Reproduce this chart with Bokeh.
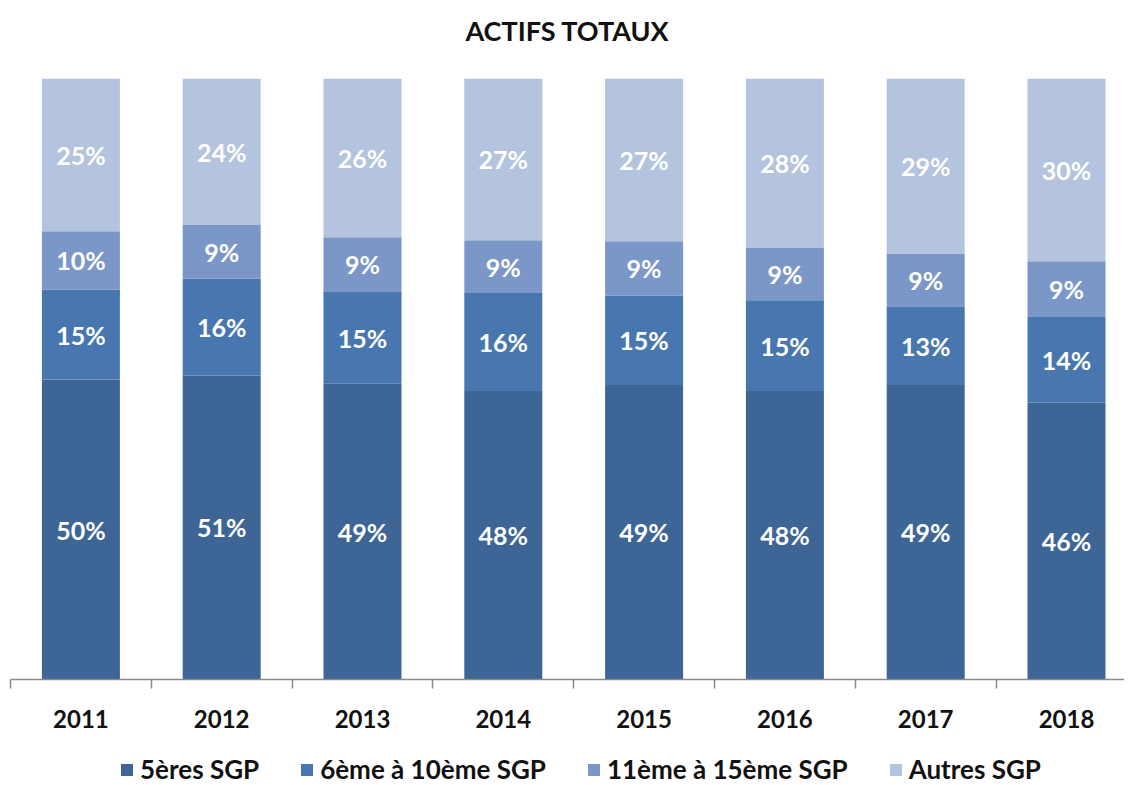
from bokeh.plotting import figure
from bokeh.layouts import column
from bokeh.models import ColumnDataSource, Range1d, FixedTicker, Legend, LegendItem
from bokeh.core.properties import value
from bokeh.embed import file_html
from bokeh.resources import INLINE

title_text = "ACTIFS TOTAUX"
years = ["2011", "2012", "2013", "2014", "2015", "2016", "2017", "2018"]
series_names = ["5ères SGP", "6ème à 10ème SGP", "11ème à 15ème SGP", "Autres SGP"]
top5 = [49.9, 50.6, 49.2, 48.0, 49.0, 48.0, 49.0, 46.1]
top6_10 = [15.0, 16.1, 15.4, 16.3, 14.9, 15.1, 13.0, 14.2]
top11_15 = [9.7, 9.0, 9.0, 8.8, 9.0, 8.7, 8.8, 9.3]
autres = [25.4, 24.3, 26.4, 26.9, 27.1, 28.2, 29.2, 30.4]
colors = ["#3d6596", "#4877b0", "#7b97c7", "#b4c3de"]

FONT = "Lato"
INK = "#111111"
series = [top5, top6_10, top11_15, autres]
keys = ["s0", "s1", "s2", "s3"]
xs = list(range(len(years)))

W = 1124
H_TITLE, H_MAIN, H_LEG = 60, 682, 43


def bare(fig):
    fig.axis.visible = False
    fig.grid.visible = False
    fig.outline_line_color = None
    return fig


# ---- title strip
pt = bare(figure(width=W, height=H_TITLE, output_backend="svg", toolbar_location=None,
                 x_range=Range1d(-1, 1), y_range=Range1d(-1, 1), min_border=0))
pt.text(x=[0], y=[0], text=[title_text], text_align="center", text_baseline="middle",
        text_color=INK, text_font=value(FONT), text_font_style="bold", text_font_size="27px")

# ---- main chart
data = {"x": xs}
for k, s in zip(keys, series):
    data[k] = s
src = ColumnDataSource(data)

p = figure(width=W, height=H_MAIN, output_backend="svg", toolbar_location=None,
           x_range=Range1d(-0.5, -0.5 + (W - 10) / 140.8), y_range=Range1d(0, 100),
           min_border_left=10, min_border_right=0, min_border_top=78 - H_TITLE,
           min_border_bottom=H_TITLE + H_MAIN - 679)

renderers = p.vbar_stack(keys, x="x", width=0.554, color=colors, line_color=None, source=src)

lx, ly, lt = [], [], []
for i in xs:
    base = 0.0
    for s in series:
        v = s[i]
        lx.append(i)
        ly.append(base + v / 2)
        lt.append(f"{round(v)}%")
        base += v
p.text(x=lx, y=ly, text=lt, text_align="center", text_baseline="middle",
       text_color="white", text_font=value(FONT), text_font_style="bold",
       text_font_size="25px")

p.yaxis.visible = False
p.xgrid.visible = False
p.ygrid.visible = False
p.outline_line_color = None

ax = p.xaxis[0]
ax.ticker = FixedTicker(ticks=xs, minor_ticks=[i - 0.5 for i in range(len(years))])
ax.major_label_overrides = {i: y for i, y in enumerate(years)}
ax.major_tick_out = 0
ax.major_tick_in = 0
ax.minor_tick_out = 9
ax.minor_tick_in = 0
ax.minor_tick_line_color = "#8a8a8a"
ax.minor_tick_line_width = 1.5
ax.axis_line_color = "#8a8a8a"
ax.axis_line_width = 1.5
ax.major_label_text_font = FONT
ax.major_label_text_font_style = "bold"
ax.major_label_text_font_size = "24px"
ax.major_label_text_color = INK
ax.major_label_standoff = 21

# ---- legend strip (hidden copies of the series feed the legend swatches)
pl = bare(figure(width=W, height=H_LEG, output_backend="svg", toolbar_location=None,
                 x_range=Range1d(0, 1), y_range=Range1d(0, 1), min_border=0))
lsrc = ColumnDataSource(data)
leg_renderers = []
for k, c in zip(keys, colors):
    r = pl.vbar(x="x", top=k, width=0.5, color=c, line_color=None, source=lsrc)
    r.visible = False
    leg_renderers.append(r)
legend = Legend(items=[LegendItem(label=n, renderers=[r]) for n, r in zip(series_names, leg_renderers)],
                orientation="horizontal", location=(109, 0))
legend.label_text_font = FONT
legend.label_text_font_style = "bold"
legend.label_text_font_size = "26px"
legend.label_text_color = INK
legend.glyph_width = 15
legend.glyph_height = 15
legend.spacing = 40
legend.label_standoff = 6
legend.border_line_color = None
legend.background_fill_alpha = 0
legend.inactive_fill_alpha = 0
legend.padding = 0
legend.margin = 0
legend.click_policy = "none"
pl.add_layout(legend, "center")

layout = column(pt, p, pl, spacing=0)
open("out.html", "w").write(file_html(layout, INLINE))
